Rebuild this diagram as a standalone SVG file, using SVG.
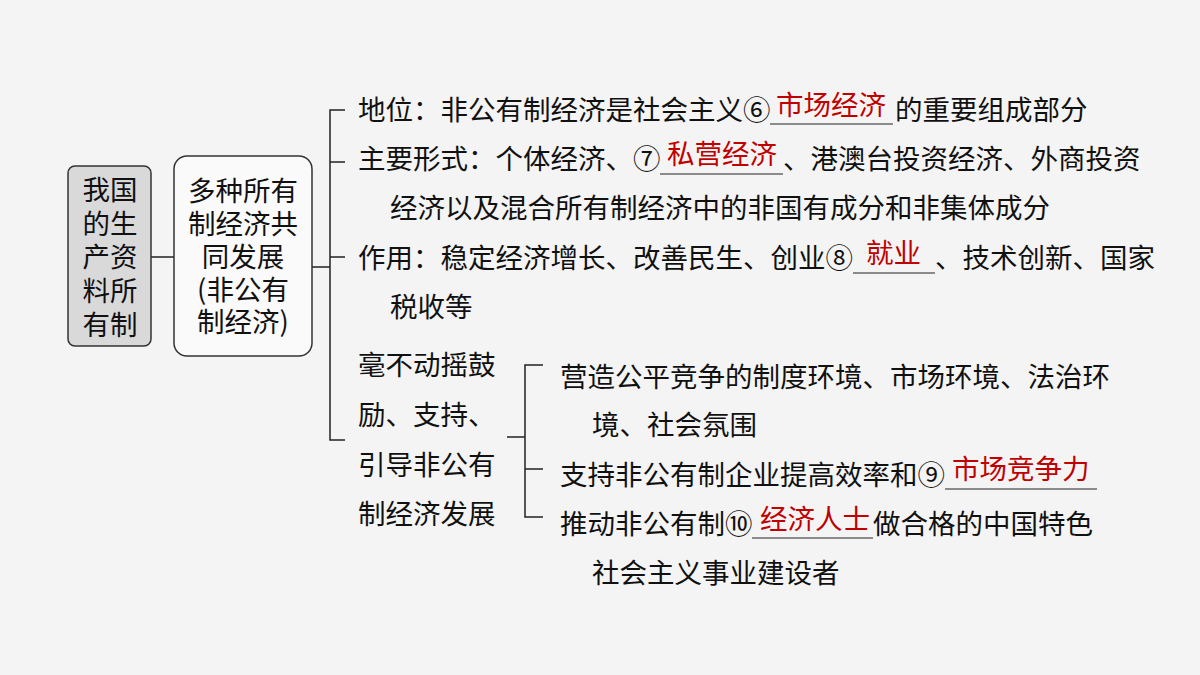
<svg xmlns="http://www.w3.org/2000/svg" width="1200" height="675" viewBox="0 0 1200 675">
<style>
text{font-family:"Noto Sans CJK SC","Noto Sans",sans-serif;font-size:27.5px;fill:#111;}
.c{text-anchor:middle;}
.r{fill:#c00000;}
.ln{stroke:#222;stroke-width:1.5;fill:none;}
.ul{stroke:#222;stroke-width:1.2;}
</style>
<rect width="1200" height="675" fill="#f4f4f4"/>
<g id="connectors">
<path class="ln" d="M151 257H174"/>
<path class="ln" d="M312 267H330M345 110H330V440H345M330 162H345M330 257H345"/>
<path class="ln" d="M507 437H525M543 365H525V517H543M525 469H543"/>
</g>
<g id="root">
<rect x="68" y="166" width="83" height="180" rx="7" fill="#d9d9d9" stroke="#333" stroke-width="1.5"/>
<text class="c" x="110" y="200">我国</text>
<text class="c" x="110" y="234">的生</text>
<text class="c" x="110" y="267">产资</text>
<text class="c" x="110" y="301">料所</text>
<text class="c" x="110" y="335">有制</text>
</g>
<g id="node-multi">
<rect x="174" y="156" width="138" height="200" rx="13" fill="#fafafa" stroke="#333" stroke-width="1.5"/>
<text class="c" x="243" y="201">多种所有</text>
<text class="c" x="243" y="234">制经济共</text>
<text class="c" x="243" y="267">同发展</text>
<text class="c" x="243" y="300">(非公有</text>
<text class="c" x="243" y="332">制经济)</text>
</g>
<g id="node-status">
<text x="358" y="120">地位：非公有制经济是社会主义⑥</text>
<line class="ul" x1="770" y1="124" x2="893" y2="124"/>
<text class="r" x="776" y="115">市场经济</text>
<text x="895" y="120">的重要组成部分</text>
</g>
<g id="node-forms">
<text x="358" y="169">主要形式：个体经济、⑦</text>
<line class="ul" x1="660" y1="174" x2="783" y2="174"/>
<text class="r" x="667" y="164">私营经济</text>
<text x="783" y="169">、港澳台投资经济、外商投资</text>
<text x="390" y="218">经济以及混合所有制经济中的非国有成分和非集体成分</text>
</g>
<g id="node-role">
<text x="358" y="268">作用：稳定经济增长、改善民生、创业⑧</text>
<line class="ul" x1="853" y1="273" x2="935" y2="273"/>
<text class="r" x="866" y="263">就业</text>
<text x="935" y="268">、技术创新、国家</text>
<text x="390" y="317">税收等</text>
</g>
<g id="node-support">
<text x="358" y="375">毫不动摇鼓</text>
<text x="358" y="425">励、支持、</text>
<text x="358" y="475">引导非公有</text>
<text x="358" y="524">制经济发展</text>
</g>
<g id="node-env">
<text x="560" y="387">营造公平竞争的制度环境、市场环境、法治环</text>
<text x="592" y="435">境、社会氛围</text>
</g>
<g id="node-eff">
<text x="560" y="485">支持非公有制企业提高效率和⑨</text>
<line class="ul" x1="945" y1="489" x2="1097" y2="489"/>
<text class="r" x="952" y="479">市场竞争力</text>
</g>
<g id="node-people">
<text x="560" y="534">推动非公有制⑩</text>
<line class="ul" x1="752" y1="538" x2="873" y2="538"/>
<text class="r" x="760" y="529">经济人士</text>
<text x="873" y="534">做合格的中国特色</text>
<text x="592" y="583">社会主义事业建设者</text>
</g>
</svg>
